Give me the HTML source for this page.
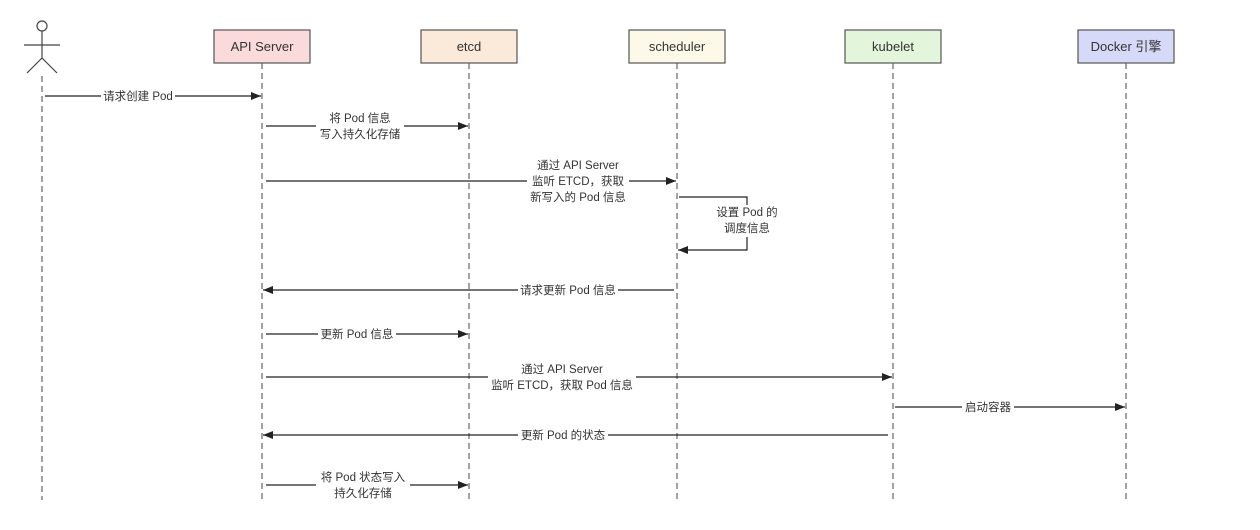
<!DOCTYPE html>
<html><head><meta charset="utf-8"><style>
html,body{margin:0;padding:0;background:#fff;}
svg text{font-family:"Liberation Sans","Noto Sans CJK SC",sans-serif;font-size:11.5px;fill:#333;}
</style></head><body>
<svg width="1260" height="525" viewBox="0 0 1260 525" xmlns="http://www.w3.org/2000/svg">
<defs><marker id="a" markerWidth="10" markerHeight="8" refX="10" refY="4" orient="auto" markerUnits="userSpaceOnUse"><path d="M0,0 L10,4 L0,8 Z" fill="#222"/></marker></defs>
<g stroke="#444" stroke-width="1.2" fill="none">
<circle cx="42" cy="26" r="5"/>
<line x1="42" y1="31" x2="42" y2="58"/><line x1="24" y1="45" x2="60" y2="45"/>
<line x1="42" y1="58" x2="27" y2="73"/><line x1="42" y1="58" x2="57" y2="73"/>
</g>
<g stroke="#444" stroke-width="1" stroke-dasharray="6,4">
<line x1="42" y1="76" x2="42" y2="500"/>
<line x1="262" y1="63" x2="262" y2="500"/>
<line x1="469" y1="63" x2="469" y2="500"/>
<line x1="677" y1="63" x2="677" y2="500"/>
<line x1="893" y1="63" x2="893" y2="500"/>
<line x1="1126" y1="63" x2="1126" y2="500"/>
</g>
<g stroke="#555" stroke-width="1.2">
<rect x="214" y="30" width="96" height="33" fill="#fadadb"/>
<rect x="421" y="30" width="96" height="33" fill="#fbe9d9"/>
<rect x="629" y="30" width="96" height="33" fill="#fdf9e8"/>
<rect x="845" y="30" width="96" height="33" fill="#e3f5da"/>
<rect x="1078" y="30" width="96" height="33" fill="#d6d9f8"/>
</g>
<g text-anchor="middle">
<text x="262" y="51" style="font-size:13px">API Server</text>
<text x="469" y="51" style="font-size:13px">etcd</text>
<text x="677" y="51" style="font-size:13px">scheduler</text>
<text x="893" y="51" style="font-size:13px">kubelet</text>
<text x="1126" y="51" style="font-size:13px">Docker 引擎</text>
</g>
<g stroke="#222" stroke-width="1.2" fill="none" marker-end="url(#a)">
<line x1="45" y1="96" x2="261" y2="96"/>
<line x1="266" y1="126" x2="468" y2="126"/>
<line x1="266" y1="181" x2="676" y2="181"/>
<polyline points="679,197 747,197 747,250 678,250"/>
<line x1="674" y1="290" x2="263" y2="290"/>
<line x1="266" y1="334" x2="468" y2="334"/>
<line x1="266" y1="377" x2="892" y2="377"/>
<line x1="895" y1="407" x2="1125" y2="407"/>
<line x1="888" y1="435" x2="263" y2="435"/>
<line x1="266" y1="485" x2="468" y2="485"/>
</g>
<g fill="#fff">
<rect x="101" y="89" width="74" height="14"/>
<rect x="316" y="111" width="88" height="32"/>
<rect x="527" y="157" width="102" height="48"/>
<rect x="714" y="205" width="66" height="32"/>
<rect x="518" y="283" width="100" height="14"/>
<rect x="318" y="327" width="78" height="14"/>
<rect x="488" y="362" width="148" height="32"/>
<rect x="962" y="400" width="52" height="14"/>
<rect x="518" y="428" width="90" height="14"/>
<rect x="316" y="470" width="94" height="32"/>
</g>
<g text-anchor="middle">
<text x="138" y="100">请求创建 Pod</text>
<text x="360" y="122">将 Pod 信息</text><text x="360" y="138">写入持久化存储</text>
<text x="578" y="169">通过 API Server</text><text x="578" y="185">监听 ETCD，获取</text><text x="578" y="201">新写入的 Pod 信息</text>
<text x="747" y="216">设置 Pod 的</text><text x="747" y="232">调度信息</text>
<text x="568" y="294">请求更新 Pod 信息</text>
<text x="357" y="338">更新 Pod 信息</text>
<text x="562" y="373">通过 API Server</text><text x="562" y="389">监听 ETCD，获取 Pod 信息</text>
<text x="988" y="411">启动容器</text>
<text x="563" y="439">更新 Pod 的状态</text>
<text x="363" y="481">将 Pod 状态写入</text><text x="363" y="497">持久化存储</text>
</g>
</svg>
</body></html>
